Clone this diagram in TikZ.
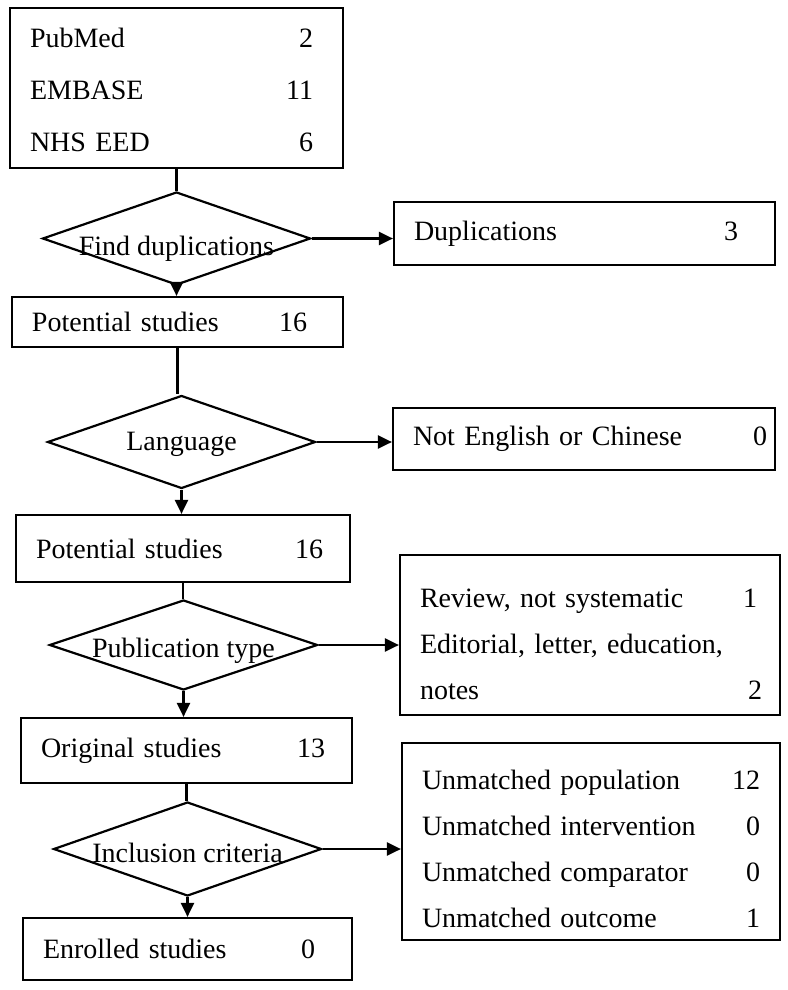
\documentclass[tikz,border=0pt]{standalone}
\usepackage{fontspec}
\setmainfont{Liberation Serif}
\usetikzlibrary{shapes.geometric,arrows.meta}

% number pushed to the right end of a row
\newcommand{\cnt}[2][0pt]{\hfill#2\kern#1}

\tikzset{
    box/.style={draw, line width=1.1pt, inner sep=0pt, align=left, font=\fontsize{14}{23}\selectfont},
    decision/.style={draw, diamond, line width=1.1pt, inner sep=0pt, minimum width=134pt, label distance=0pt},
    dlabel/.style={font=\fontsize{14}{17}\selectfont, inner sep=0pt},
    flow/.style={line width=1.1pt},
    arr/.style={line width=1.1pt, -{Triangle[length=7pt,width=6.5pt]}}
}

\begin{document}
\begin{tikzpicture}[x=0.5pt, y=-0.5pt]
        \useasboundingbox (0,0) rectangle (787,990);

        % The Sources
        \node[box, minimum width=166.5pt, minimum height=80pt, text width=146.5pt, text height=12pt,
              font=\fontsize{14}{26}\selectfont] (src) at (176.5,88)
            {PubMed\cnt[5pt]{2}\\EMBASE\cnt[5pt]{11}\\NHS EED\cnt[5pt]{6}};

        % The Decisions
        \node[decision, minimum height=46.5pt, label={[dlabel, yshift=-5pt]center:Find duplications}] (dup) at (176.5,238.5) {};
        \node[decision, minimum height=46.5pt, label={[dlabel, yshift=-1pt]center:Language}] (lang) at (181.5,442) {};
        \node[decision, minimum height=45pt, label={[dlabel, yshift=-2.7pt]center:Publication type}] (pub) at (183.5,645) {};
        \node[decision, minimum height=47pt, label={[dlabel, yshift=-2.2pt]center:Inclusion criteria}] (incl) at (187.5,849) {};

        % The Main Column
        \node[box, minimum width=165.5pt, minimum height=25pt, text width=145.5pt] (pot1) at (177.5,322)
            {Potential studies\cnt[8pt]{16}};
        \node[box, minimum width=167pt, minimum height=33.5pt, text width=147pt] (pot2) at (183,548.5)
            {Potential studies\cnt[3.5pt]{16}};
        \node[box, minimum width=165.5pt, minimum height=32.5pt, text width=145.5pt] (orig) at (186.5,750.5)
            {Original studies\cnt[3.5pt]{13}};
        \node[box, minimum width=164.5pt, minimum height=31pt, text width=144.5pt] (enrol) at (187.5,949)
            {Enrolled studies\cnt[8.5pt]{0}};

        % The Exclusions
        \node[box, minimum width=190.5pt, minimum height=31.5pt, text width=170.5pt] (dupx) at (584.5,233.5)
            {Duplications\cnt[8.5pt]{3}};
        \node[box, minimum width=191pt, minimum height=31pt, text width=171pt] (langx) at (584,439)
            {Not English or Chinese\cnt[-6pt]{0}};
        \node[box, minimum width=190pt, minimum height=80pt, text width=170pt, text height=18.5pt] (pubx) at (590,635)
            {Review, not systematic\cnt[1.5pt]{1}\\Editorial, letter, education,\\notes\cnt[-1pt]{2}};
        \node[box, minimum width=189pt, minimum height=98.5pt, text width=169pt, text height=17.5pt] (inclx) at (591,841.5)
            {Unmatched population\cnt{12}\\Unmatched intervention\cnt{0}\\Unmatched comparator\cnt{0}\\Unmatched outcome\cnt{1}};

        % Down the Column
        \draw[flow] (src.south) -- (src.south |- dup.north);
        \draw[arr] (dup.south) -- (dup.south |- pot1.north);
        \draw[flow] (pot1.south) -- (pot1.south |- lang.north);
        \draw[arr] (lang.south) -- (lang.south |- pot2.north);
        \draw[flow] (pot2.south) -- (pot2.south |- pub.north);
        \draw[arr] (pub.south) -- (pub.south |- orig.north);
        \draw[flow] (orig.south) -- (orig.south |- incl.north);
        \draw[arr] (incl.south) -- (incl.south |- enrol.north);

        % Out to the Right
        \draw[arr] (dup.east) -- (dup.east -| dupx.west);
        \draw[arr] (lang.east) -- (lang.east -| langx.west);
        \draw[arr] (pub.east) -- (pub.east -| pubx.west);
        \draw[arr] (incl.east) -- (incl.east -| inclx.west);
\end{tikzpicture}
\end{document}
